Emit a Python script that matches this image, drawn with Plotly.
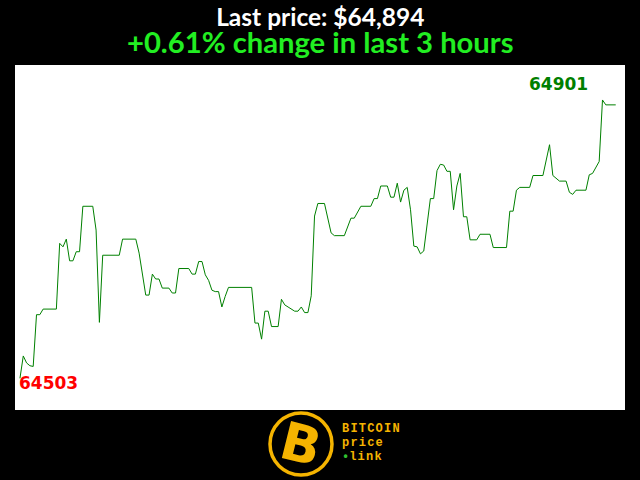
import plotly.graph_objects as go

# minute index within the last 3 hours, and BTC price (USD)
minutes = [0, 1, 2, 3, 4, 5, 6, 7, 11, 12, 13, 14, 15, 16, 17, 18, 19, 22, 23, 24,
           25, 30, 31, 35, 36, 38, 39, 40, 41, 42, 43, 45, 46, 47, 48, 51, 52, 53, 54, 55,
           56, 57, 58, 59, 60, 61, 62, 63, 70, 71, 72, 73, 74, 75, 76, 78, 79, 80, 81, 83,
           84, 85, 86, 87, 88, 89, 90, 92, 94, 95, 98, 100, 101, 103, 106, 107, 108, 109, 111, 112,
           113, 114, 115, 116, 117, 118, 119, 120, 121, 122, 124, 125, 126, 127, 128, 129, 130, 131, 132, 133,
           134, 135, 136, 138, 139, 142, 143, 147, 148, 149, 150, 151, 154, 155, 158, 159, 160, 161, 163, 165,
           166, 167, 168, 171, 172, 173, 175, 176, 177, 180]
prices = [64503, 64535, 64525, 64521, 64520, 64594, 64594, 64602, 64602, 64696, 64691, 64702, 64671, 64671, 64684, 64684, 64749, 64749, 64715, 64583,
          64679, 64679, 64702, 64702, 64682, 64622, 64622, 64652, 64645, 64645, 64632, 64632, 64625, 64625, 64660, 64660, 64652, 64652, 64670, 64670,
          64651, 64643, 64629, 64627, 64627, 64605, 64620, 64633, 64633, 64582, 64582, 64559, 64599, 64599, 64577, 64577, 64616, 64608, 64605, 64599,
          64599, 64605, 64597, 64597, 64621, 64735, 64753, 64753, 64711, 64707, 64707, 64732, 64732, 64749, 64749, 64760, 64760, 64778, 64778, 64762,
          64762, 64782, 64755, 64772, 64776, 64744, 64692, 64691, 64681, 64685, 64760, 64760, 64800, 64809, 64808, 64799, 64799, 64744, 64778, 64796,
          64734, 64734, 64701, 64701, 64709, 64709, 64690, 64690, 64742, 64742, 64772, 64776, 64776, 64793, 64793, 64817, 64837, 64793, 64785, 64785,
          64769, 64766, 64772, 64772, 64794, 64796, 64813, 64901, 64894, 64894]

last_price = 64894
change_pct = 0.61
hours = 3

logo_lines = ["BITCOIN", "price", "link"]

i_min = prices.index(min(prices))
i_max = prices.index(max(prices))

fig = go.Figure()
fig.add_trace(go.Scatter(x=minutes, y=prices, mode="lines",
                         line=dict(color="#008000", width=1), hoverinfo="skip"))

fig.add_annotation(x=minutes[i_min], y=prices[i_min], text=str(prices[i_min]),
                   showarrow=False, xanchor="left", yanchor="middle", xshift=-3, yshift=-5,
                   font=dict(family="DejaVu Sans", size=17, color="#ff0000", weight="bold"))
fig.add_annotation(x=minutes[i_max], y=prices[i_max], text=str(prices[i_max]),
                   showarrow=False, xanchor="right", yanchor="bottom", xshift=-12, yshift=4,
                   font=dict(family="DejaVu Sans", size=17, color="#008000", weight="bold"))

title_text = (f"<span style='font-size:24.5px;fill:#ffffff'>Last price: ${last_price:,}</span><br>"
              f"<span style='font-size:29.2px;fill:#22ee22'>+{change_pct:.2f}% change in last {hours} hours</span>")
fig.add_annotation(x=0.5, y=1.0, xref="paper", yref="paper", yanchor="middle", yshift=35,
                   borderpad=0, text=title_text, showarrow=False,
                   font=dict(family="Lato", size=21, color="#ffffff", weight="bold"))

# logo
fig.add_shape(type="circle", xref="paper", yref="paper",
              x0=(270 - 15) / 610, x1=(332 - 15) / 610,
              y0=(410 - 475) / 345, y1=(410 - 413) / 345,
              line=dict(color="#f5b400", width=3.5), fillcolor="#000000")
fig.add_annotation(x=(301 - 15) / 610, y=(410 - 444) / 345, xref="paper", yref="paper",
                   text="B", showarrow=False, textangle=14, xanchor="center", yanchor="middle",
                   font=dict(family="DejaVu Sans", size=52, color="#f5b400", weight="bold"))
for k, (txt, yy) in enumerate(zip(logo_lines, [429, 443, 457])):
    label = f"<span style='letter-spacing:1.2px'>{txt}</span>"
    if k == 2:
        label = "<span style='color:#30c030'>•</span>" + label
    fig.add_annotation(x=(340 - 15) / 610, y=(410 - yy) / 345, xref="paper", yref="paper",
                       text=label, showarrow=False, xanchor="left", yanchor="middle",
                       font=dict(family="Liberation Mono", size=12, color="#f5b400", weight="bold"))

fig.update_layout(width=640, height=480, paper_bgcolor="#000000", plot_bgcolor="#ffffff",
                  margin=dict(l=15, r=15, t=65, b=70), showlegend=False)
fig.update_xaxes(visible=False, range=[-1.5, 182.8], fixedrange=True)
fig.update_yaxes(visible=False, range=[64457.7, 64951], fixedrange=True)

fig.write_html("out.html", config={"displayModeBar": False},
               post_script="document.body.style.margin='0px';document.body.style.backgroundColor='#000000';document.body.style.overflow='hidden';")
